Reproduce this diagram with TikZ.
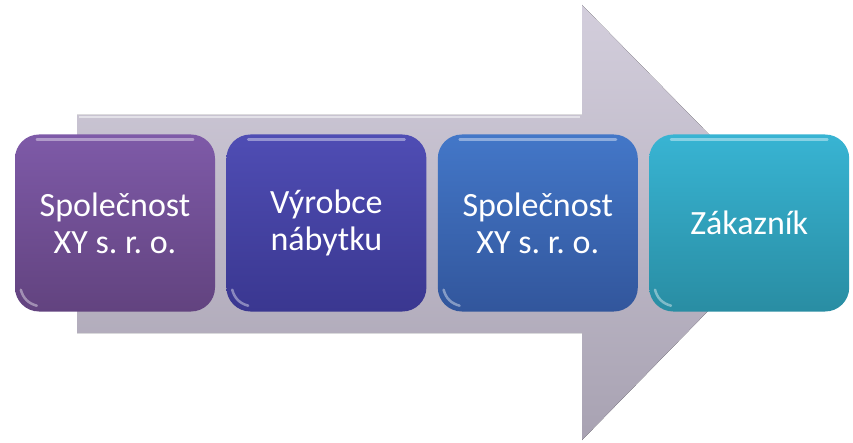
\documentclass[tikz,border=0pt]{standalone}
\usepackage{fontspec}
\setmainfont{Carlito}
\usetikzlibrary{positioning}
\definecolor{arrowtop}{HTML}{D3CEDC}
\definecolor{arrowbot}{HTML}{A8A2B2}
\definecolor{purpletop}{HTML}{7E5AA8}
\definecolor{purplebot}{HTML}{62437F}
\definecolor{indigotop}{HTML}{4F4DB4}
\definecolor{indigobot}{HTML}{3A3790}
\definecolor{bluetop}{HTML}{4377C8}
\definecolor{bluebot}{HTML}{32569C}
\definecolor{tealtop}{HTML}{38B4D3}
\definecolor{tealbot}{HTML}{298DA3}
\begin{document}
\begin{tikzpicture}[x=1pt, y=-1pt,
        stage/.style={rounded corners=24pt, minimum width=200pt, minimum height=177pt,
            inner sep=0pt, align=center, text=white,
            font=\fontsize{34}{37}\selectfont},
        gloss/.style={white, opacity=0.4, line width=2.5pt, line cap=round}]
        \useasboundingbox (0,0) rectangle (853,443);
        % the big arrow behind
        \fill[top color=arrowtop, bottom color=arrowbot]
            (77,115) -- (582,115) -- (582,5) -- (795,222) -- (582,440) -- (582,333) -- (77,333) -- cycle;
        \draw[white, opacity=0.5, line width=1.2pt] (79,117) -- (580,117);
        % stages
        \node[stage, top color=purpletop, bottom color=purplebot]
            (firma) at (115,223) {Společnost\\XY s.\ r.\ o.};
        \node[stage, top color=indigotop, bottom color=indigobot, right=11pt of firma]
            (vyrobce) {Výrobce\\nábytku};
        \node[stage, top color=bluetop, bottom color=bluebot, right=11pt of vyrobce]
            (firma2) {Společnost\\XY s.\ r.\ o.};
        \node[stage, top color=tealtop, bottom color=tealbot, right=11pt of firma2]
            (zakaznik) {Zákazník};
        \foreach \n in {firma,vyrobce,firma2,zakaznik}
            {
                \draw[gloss] ([xshift=22pt,yshift=-5pt]\n.north west) -- ([xshift=-22pt,yshift=-5pt]\n.north east);
                \draw[gloss] ([xshift=6pt,yshift=22pt]\n.south west) to[bend right] ([xshift=22pt,yshift=6pt]\n.south west);
            }
    \end{tikzpicture}
\end{document}
